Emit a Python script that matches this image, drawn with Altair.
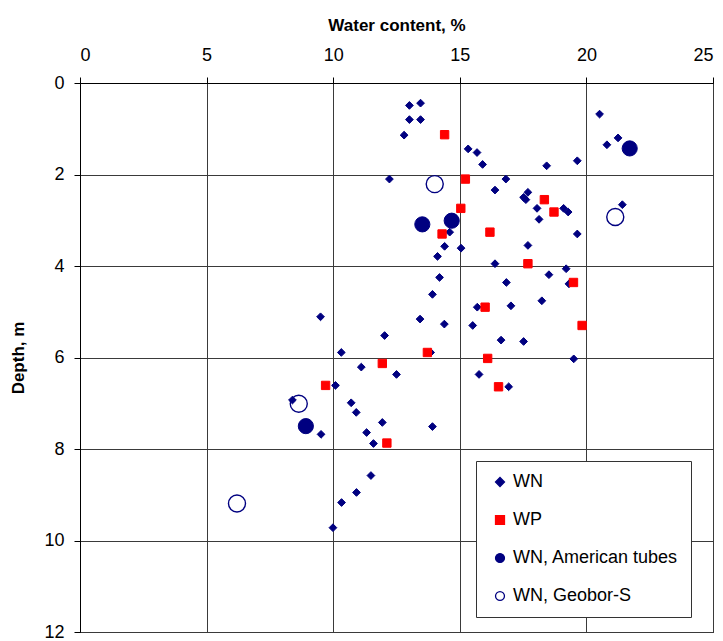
import altair as alt
import pandas as pd

# Natural water content (WN) by depth
wn_w = [13.01, 13.45, 13.01, 13.45, 12.8, 15.33, 15.68, 15.9, 18.43, 19.64,
        20.52, 21.25, 20.81, 12.22, 16.82, 16.39, 17.69, 17.52, 17.61, 18.05,
        19.1, 19.28, 18.13, 21.42, 14.6, 19.64, 14.4, 15.05, 17.69, 14.12,
        16.39, 19.2, 18.52, 14.2, 16.84, 19.31, 13.92, 18.24, 15.69, 17.02,
        9.5, 13.43, 14.39, 15.51, 12.03, 16.63, 17.52, 10.32, 13.85, 19.5,
        11.11, 12.5, 15.76, 10.09, 16.93, 8.39, 10.71, 10.91, 11.94, 13.92,
        11.32, 9.52, 11.59, 11.49, 10.92, 10.33, 9.99]
wn_d = [0.49, 0.44, 0.80, 0.80, 1.14, 1.44, 1.52, 1.78, 1.81, 1.70,
        0.68, 1.20, 1.35, 2.10, 2.10, 2.34, 2.39, 2.50, 2.55, 2.74,
        2.74, 2.82, 2.98, 2.66, 3.26, 3.30, 3.57, 3.61, 3.55, 3.79,
        3.95, 4.06, 4.19, 4.25, 4.36, 4.39, 4.62, 4.76, 4.90, 4.87,
        5.11, 5.16, 5.27, 5.30, 5.52, 5.62, 5.65, 5.89, 5.89, 6.03,
        6.21, 6.37, 6.37, 6.61, 6.64, 6.93, 6.99, 7.20, 7.42, 7.51,
        7.64, 7.68, 7.88, 8.58, 8.95, 9.17, 9.72]

# Plastic limit (WP)
wp_w = [14.4, 15.22, 18.34, 18.72, 15.04, 14.3, 16.19, 17.69, 19.49, 16.0,
        19.83, 13.72, 11.94, 16.1, 9.7, 16.53, 12.12]
wp_d = [1.13, 2.10, 2.55, 2.82, 2.74, 3.30, 3.26, 3.95, 4.36, 4.90,
        5.30, 5.89, 6.13, 6.02, 6.61, 6.64, 7.87]

# WN from American tube samples
at_w = [21.71, 13.52, 14.68, 8.92]
at_d = [1.43, 3.09, 3.01, 7.50]

# WN from Geobor-S samples
gb_w = [14.01, 21.14, 8.64, 6.2]
gb_d = [2.21, 2.93, 7.01, 9.19]

series = ["WN", "WP", "WN, American tubes", "WN, Geobor-S"]


def frame(name, ws, ds):
    return pd.DataFrame({"series": name, "w": ws, "d": ds})


navy = "#000080"
red = "#FF0000"
font = "Liberation Sans"

legend = alt.Legend(
    title=None, orient="none", legendX=396, legendY=378,
    labelFontSize=18, labelFont=font, labelColor="black", labelLimit=400,
    symbolSize=80, symbolStrokeWidth=1.3, symbolOffset=3, labelOffset=4,
    rowPadding=20, padding=12, strokeColor="#333333", fillColor="white",
)

x_enc = alt.X("w:Q", title="Water content, %",
              scale=alt.Scale(domain=[0, 25], nice=False),
              axis=alt.Axis(orient="top", values=[0, 5, 10, 15, 20, 25],
                            labelPadding=13, titlePadding=12))
y_enc = alt.Y("d:Q", title="Depth, m",
              scale=alt.Scale(domain=[0, 12], reverse=True, nice=False),
              axis=alt.Axis(values=[0, 2, 4, 6, 8, 10, 12],
                            labelPadding=10, titlePadding=16))
shape_enc = alt.Shape("series:N", legend=legend, scale=alt.Scale(
    domain=series, range=["diamond", "square", "circle", "circle"]))
fill_enc = alt.Fill("series:N", legend=legend, scale=alt.Scale(
    domain=series, range=[navy, red, navy, "transparent"]))
stroke_enc = alt.Stroke("series:N", legend=legend, scale=alt.Scale(
    domain=series, range=[navy, red, navy, navy]))


def layer(df, size, sw):
    return alt.Chart(df).mark_point(opacity=1, size=size, strokeWidth=sw).encode(
        x=x_enc, y=y_enc, shape=shape_enc, fill=fill_enc, stroke=stroke_enc)


chart = alt.layer(
    layer(frame(series[2], at_w, at_d), 230, 1),
    layer(frame(series[3], gb_w, gb_d), 290, 1.4),
    layer(frame(series[0], wn_w, wn_d), 60, 1),
    layer(frame(series[1], wp_w, wp_d), 70, 1),
).properties(
    width=633, height=549,
    autosize="none",
    padding={"left": 80, "top": 83, "right": 10, "bottom": 9},
    background="white",
).configure_view(
    stroke="black", strokeWidth=1
).configure_axis(
    labelFont=font, titleFont=font, labelFontSize=18, titleFontSize=17,
    titleFontWeight="bold", labelColor="black", titleColor="black",
    domainColor="black", tickColor="black", tickSize=6,
    gridColor="#3a3a3a", gridWidth=1, gridOpacity=1,
)

chart.save("out.html", embed_options={"renderer": "svg", "actions": False})
